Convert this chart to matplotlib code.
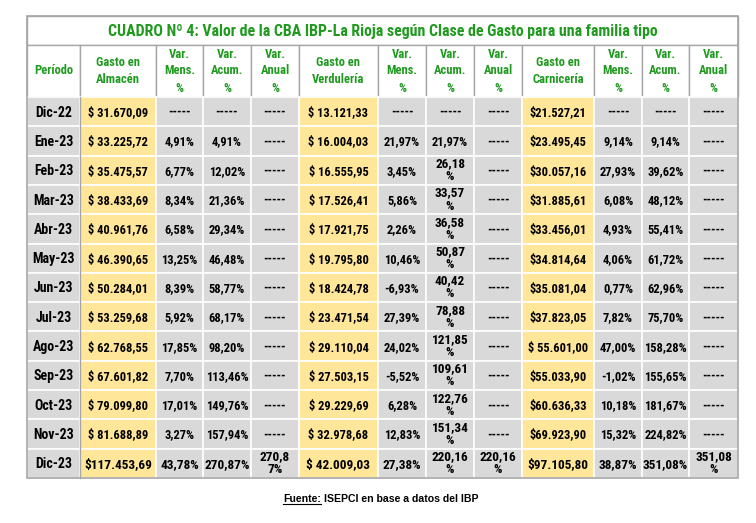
import matplotlib
matplotlib.use("Agg")
import matplotlib.pyplot as plt
from matplotlib.patches import Rectangle
from matplotlib import font_manager

# --- data -------------------------------------------------------------
periodos = ['Dic-22', 'Ene-23', 'Feb-23', 'Mar-23', 'Abr-23', 'May-23', 'Jun-23',
            'Jul-23', 'Ago-23', 'Sep-23', 'Oct-23', 'Nov-23', 'Dic-23']

almacen = [31670.09, 33225.72, 35475.57, 38433.69, 40961.76, 46390.65, 50284.01,
           53259.68, 62768.55, 67601.82, 79099.80, 81688.89, 117453.69]
alm_mens = [None, 4.91, 6.77, 8.34, 6.58, 13.25, 8.39, 5.92, 17.85, 7.70, 17.01, 3.27, 43.78]
alm_acum = [None, 4.91, 12.02, 21.36, 29.34, 46.48, 58.77, 68.17, 98.20, 113.46, 149.76, 157.94, 270.87]
alm_anual = [None] * 12 + [270.87]

verduleria = [13121.33, 16004.03, 16555.95, 17526.41, 17921.75, 19795.80, 18424.78,
              23471.54, 29110.04, 27503.15, 29229.69, 32978.68, 42009.03]
ver_mens = [None, 21.97, 3.45, 5.86, 2.26, 10.46, -6.93, 27.39, 24.02, -5.52, 6.28, 12.83, 27.38]
ver_acum = [None, 21.97, 26.18, 33.57, 36.58, 50.87, 40.42, 78.88, 121.85, 109.61, 122.76, 151.34, 220.16]
ver_anual = [None] * 12 + [220.16]

carniceria = [21527.21, 23495.45, 30057.16, 31885.61, 33456.01, 34814.64, 35081.04,
              37823.05, 55601.00, 55033.90, 60636.33, 69923.90, 97105.80]
car_mens = [None, 9.14, 27.93, 6.08, 4.93, 4.06, 0.77, 7.82, 47.00, -1.02, 10.18, 15.32, 38.87]
car_acum = [None, 9.14, 39.62, 48.12, 55.41, 61.72, 62.96, 75.70, 158.28, 155.65, 181.67, 224.82, 351.08]
car_anual = [None] * 12 + [351.08]

headers = ['Período', 'Gasto en\nAlmacén', 'Var.\nMens.\n%', 'Var.\nAcum.\n%', 'Var.\nAnual\n%',
           'Gasto en\nVerdulería', 'Var.\nMens.\n%', 'Var.\nAcum.\n%', 'Var.\nAnual\n%',
           'Gasto en\nCarnicería', 'Var.\nMens.\n%', 'Var.\nAcum.\n%', 'Var.\nAnual\n%']

title = 'CUADRO Nº 4: Valor de la CBA IBP-La Rioja según Clase de Gasto para una familia tipo'

# --- helpers ----------------------------------------------------------
def pick_font(names):
    avail = {f.name for f in font_manager.fontManager.ttflist}
    for n in names:
        if n in avail:
            return n
    return 'DejaVu Sans'

narrow = pick_font(['Liberation Sans Narrow', 'Roboto Condensed', 'DejaVu Sans'])


def fmt_num(v, dec=2):
    s = f"{v:,.{dec}f}"
    return s.replace(',', 'X').replace('.', ',').replace('X', '.')


def fmt_money(v, space=True):
    return ('$ ' if space else '$') + fmt_num(v)


def fmt_pct(v, wrap=0):
    if v is None:
        return '-----'
    s = fmt_num(v) + '%'
    if wrap == 1:      # "26,18\n%"
        s = s[:-1] + '\n%'
    elif wrap == 2:    # "270,8\n7%"
        s = s[:-2] + '\n' + s[-2:]
    return s


# build the display table
rows = []
n = len(periodos)
for i in range(n):
    last = i == n - 1
    acum_wrap = 1 if (i >= 2) else 0
    rows.append([
        periodos[i],
        fmt_money(almacen[i], space=not last),
        fmt_pct(alm_mens[i]),
        fmt_pct(alm_acum[i]),
        fmt_pct(alm_anual[i], wrap=2 if last else 0),
        fmt_money(verduleria[i]),
        fmt_pct(ver_mens[i]),
        fmt_pct(ver_acum[i], wrap=acum_wrap),
        fmt_pct(ver_anual[i], wrap=1 if last else 0),
        fmt_money(carniceria[i], space=(i == 8)),
        fmt_pct(car_mens[i]),
        fmt_pct(car_acum[i]),
        fmt_pct(car_anual[i], wrap=1 if last else 0),
    ])

# --- layout (pixels) --------------------------------------------------
col_edges = [27, 80, 156, 203, 251, 299, 378, 426, 474, 522, 594, 642, 689, 738]
top, title_bot, head_bot, bottom = 16, 45, 97, 478
row_h = (bottom - head_bot) / n

gray = '#d9d9d9'
yellow = '#ffe699'
green = '#1f9a1f'
line_gray = '#a6a6a6'
money_cols = {1, 5, 9}

fig = plt.figure(figsize=(7.56, 5.23), dpi=100)
ax = fig.add_axes([0, 0, 1, 1])
ax.set_xlim(0, 756)
ax.set_ylim(523, 0)
ax.axis('off')

# title
ax.add_patch(Rectangle((col_edges[0], top), col_edges[-1] - col_edges[0], title_bot - top,
                       facecolor='white', edgecolor=line_gray, lw=1))
ax.text((col_edges[0] + col_edges[-1]) / 2, (top + title_bot) / 2 + 1, title,
        ha='center', va='center', color=green, fontsize=11.4, fontweight='bold', family=narrow)

# header
for j, h in enumerate(headers):
    x0, x1 = col_edges[j], col_edges[j + 1]
    ax.add_patch(Rectangle((x0, title_bot), x1 - x0, head_bot - title_bot,
                           facecolor='white', edgecolor=line_gray, lw=1))
    ax.text((x0 + x1) / 2, (title_bot + head_bot) / 2, h, ha='center', va='center',
            color=green, fontsize=9, fontweight='bold', family=narrow, linespacing=1.4)

# body
for i, r in enumerate(rows):
    y0 = head_bot + i * row_h
    last = i == n - 1
    for j, val in enumerate(r):
        x0, x1 = col_edges[j], col_edges[j + 1]
        fc = yellow if j in money_cols else gray
        ax.add_patch(Rectangle((x0, y0), x1 - x0, row_h, facecolor=fc,
                               edgecolor='white', lw=1.2))
        multi = '\n' in val
        size = 9.5 if last else 9
        if j == 0:
            size = 10
        if multi:
            size = 9.5
        ax.text((x0 + x1) / 2, y0 + row_h / 2 + (0 if multi else 1), val,
                ha='center', va='center', color='black',
                fontsize=size, fontweight='bold',
                family=narrow, linespacing=1.0)

# vertical grey separator and outer frame
ax.plot([col_edges[1], col_edges[1]], [head_bot, bottom], color=line_gray, lw=1)
ax.add_patch(Rectangle((col_edges[0], top), col_edges[-1] - col_edges[0], bottom - top,
                       facecolor='none', edgecolor=line_gray, lw=1.2))

# footnote
fx = 283
t1 = ax.text(fx, 499, 'Fuente:', ha='left', va='center', fontsize=7.6,
             fontweight='bold', family='Liberation Sans')
fig.canvas.draw()
bb = t1.get_window_extent().transformed(ax.transData.inverted())
ax.plot([bb.x0, bb.x1], [504, 504], color='black', lw=0.8)
ax.text(bb.x1 + 3, 499, 'ISEPCI en base a datos del IBP', ha='left', va='center',
        fontsize=7.6, fontweight='bold', family='Liberation Sans')

fig.savefig('out.png', dpi=100)
